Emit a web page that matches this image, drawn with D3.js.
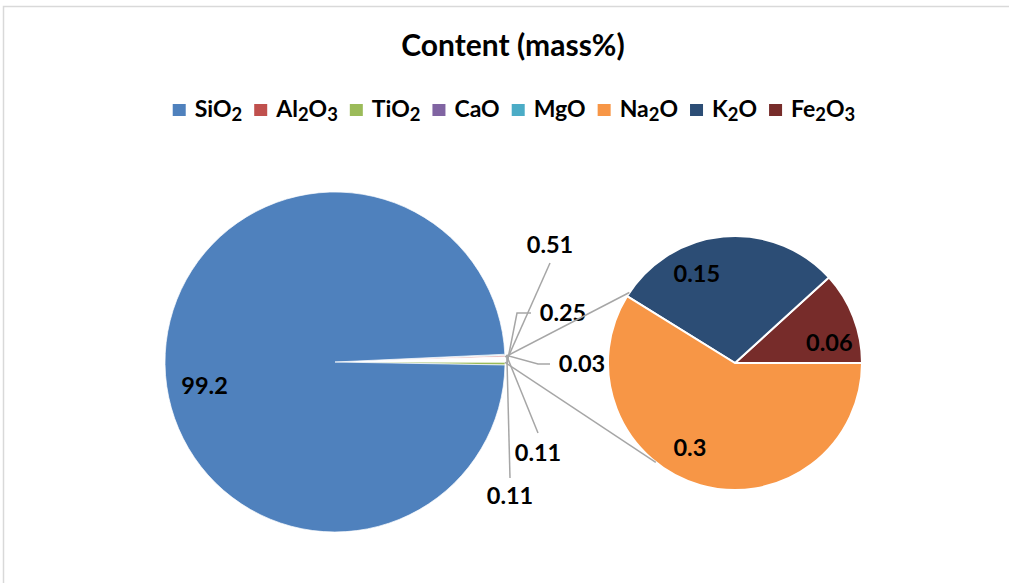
<!DOCTYPE html>
<html><head><meta charset="utf-8">
<script src="https://cdn.jsdelivr.net/npm/d3@7"></script>
<style>body{margin:0;background:#fff;overflow:hidden}text{font-family:Lato,"Open Sans",sans-serif;font-weight:bold}</style>
</head><body>
<svg id="chart" width="1009" height="583"></svg>
<script>
// ---- data ----
const categories = ["SiO2","Al2O3","TiO2","CaO","MgO","Na2O","K2O","Fe2O3"];
const values     = [99.2, 0.11, 0.25, 0.03, 0.11, 0.3, 0.15, 0.06];
const colors     = ["#4F81BD","#C0504D","#9BBB59","#8064A2","#4BACC6","#F79646","#2C4D75","#772C2A"];
const secondaryCats = ["Fe2O3","K2O","Na2O"];            // split into second pie
const mainOrder  = ["MgO","CaO","Al2O3","Other","TiO2","SiO2"]; // clockwise drawing order
const title = "Content (mass%)";

// ---- layout ----
const W = 1009, H = 583;
const svg = d3.select("#chart");
const mainC = {x: 335, y: 362}, mainR = 170;
const secC = {x: 735, y: 363}, secR = 127;
const valOf = c => values[categories.indexOf(c)];
const colOf = c => colors[categories.indexOf(c)];
const otherVal = d3.sum(secondaryCats, valOf);
const labFS = 23.5;

// border
svg.append("rect").attr("x",3.5).attr("y",6.5).attr("width",W+10).attr("height",H+10)
  .attr("fill","none").attr("stroke","#d9d9d9").attr("stroke-width",1.5);

// title
svg.append("text").attr("x",513).attr("y",56).attr("text-anchor","middle")
  .attr("font-size",30).attr("fill","#000").text(title);

// legend with subscripts
function formula(sel, name, fs){
  const parts = name.match(/[A-Za-z]+|\d+/g);
  let lowered = false;
  parts.forEach(p=>{
    if(/\d/.test(p)){ sel.append("tspan").attr("font-size",fs*0.8).attr("dy",fs*0.16).text(p); lowered = true; }
    else { const t = sel.append("tspan").text(p); if(lowered){ t.attr("dy",-fs*0.16); lowered=false; } }
  });
}
const legFS = 23, legY = 117, sq = 13, gapIn = 9, gapOut = 12;
const leg = svg.append("g");
let lx = 0;
categories.forEach((c,i)=>{
  const g = leg.append("g").attr("transform",`translate(${lx},0)`);
  g.append("rect").attr("x",0).attr("y",104).attr("width",sq).attr("height",sq-1).attr("fill",colors[i]);
  const t = g.append("text").attr("x",sq+gapIn).attr("y",legY).attr("font-size",legFS).attr("fill","#000");
  formula(t,c,legFS);
  lx += sq + gapIn + t.node().getComputedTextLength() + gapOut;
});
const legW = lx - gapOut;
leg.attr("transform",`translate(${514 - legW/2},0)`);

// ---- main pie ----
const mainData = mainOrder.map(c => ({cat:c, value: c==="Other"?otherVal:valOf(c)}));
const total = d3.sum(mainData, d=>d.value);
const smallAng = (total - valOf("SiO2"))/total * 2*Math.PI;
const start = Math.PI/2 - smallAng*0.72;
const pieMain = d3.pie().sort(null).value(d=>d.value).startAngle(start).endAngle(start+2*Math.PI);
const arcMain = d3.arc().innerRadius(0).outerRadius(mainR);
const mArcs = pieMain(mainData);
const gm = svg.append("g").attr("transform",`translate(${mainC.x},${mainC.y})`);
gm.selectAll("path").data(mArcs).join("path").attr("d",arcMain)
  .attr("fill",d=>d.data.cat==="Other"?"#fff":colOf(d.data.cat))
  .attr("stroke","#fff").attr("stroke-width",0.7);

// SiO2 label
const siA = mArcs.find(d=>d.data.cat==="SiO2");
const siMid = (siA.startAngle+siA.endAngle)/2 - 9.5*Math.PI/180;
gm.append("text").attr("x",Math.sin(siMid)*mainR*0.78).attr("y",-Math.cos(siMid)*mainR*0.78+8)
  .attr("text-anchor","middle").attr("font-size",labFS).text(valOf("SiO2"));

// small slice labels with leader lines (label offsets relative to main centre)
const smallLabelLayout = {
  Other: {text:[215,-117], pts:[[215,-99]]},
  TiO2:  {text:[228,-49],  pts:[[182,-49],[196,-49]]},
  CaO:   {text:[247,2],    pts:[[203,2],[215,2]]},
  Al2O3: {text:[203,91],   pts:[[203,71]]},
  MgO:   {text:[175,134],  pts:[[175,116]]}
};
mArcs.filter(d=>d.data.cat!=="SiO2").forEach(d=>{
  const L = smallLabelLayout[d.data.cat];
  const mid = (d.startAngle+d.endAngle)/2;
  const s = [Math.sin(mid)*(mainR+2), -Math.cos(mid)*(mainR+2)];
  gm.append("path").attr("d",d3.line()([s,...L.pts])).attr("fill","none")
    .attr("stroke","#a6a6a6").attr("stroke-width",1.5);
  gm.append("text").attr("x",L.text[0]).attr("y",L.text[1]+8).attr("text-anchor","middle")
    .attr("font-size",labFS).text(d.value);
});

// ---- secondary pie ----
const secData = secondaryCats.map(c=>({cat:c, value:valOf(c)}));
const pieSec = d3.pie().sort(null).value(d=>d.value).startAngle(Math.PI/2).endAngle(Math.PI/2-2*Math.PI);
const arcSec = d3.arc().innerRadius(0).outerRadius(secR);
const sArcs = pieSec(secData);
const gs = svg.append("g").attr("transform",`translate(${secC.x},${secC.y})`);
gs.selectAll("path").data(sArcs).join("path").attr("d",arcSec)
  .attr("fill",d=>colOf(d.data.cat)).attr("stroke","#fff").attr("stroke-width",2);
const secShift = {Fe2O3: 9, K2O: -18, Na2O: 12};
sArcs.forEach(d=>{
  const a = (d.startAngle+d.endAngle)/2 + secShift[d.data.cat]*Math.PI/180;
  gs.append("text").attr("x",Math.sin(a)*secR*0.76).attr("y",-Math.cos(a)*secR*0.76+8)
    .attr("text-anchor","middle").attr("font-size",labFS).text(d.data.value);
});

// ---- connectors ----
const oA = mArcs.find(d=>d.data.cat==="Other");
const connAngles = [303.7, 218.6];
[oA.startAngle, oA.endAngle].forEach((a,i)=>{
  const p0 = [mainC.x+Math.sin(a)*mainR, mainC.y-Math.cos(a)*mainR];
  const b = connAngles[i]*Math.PI/180;
  const p1 = [secC.x+Math.sin(b)*secR, secC.y-Math.cos(b)*secR];
  svg.append("line").attr("x1",p0[0]).attr("y1",p0[1]).attr("x2",p1[0]).attr("y2",p1[1])
    .attr("stroke","#a6a6a6").attr("stroke-width",1.5);
});
</script>
</body></html>
